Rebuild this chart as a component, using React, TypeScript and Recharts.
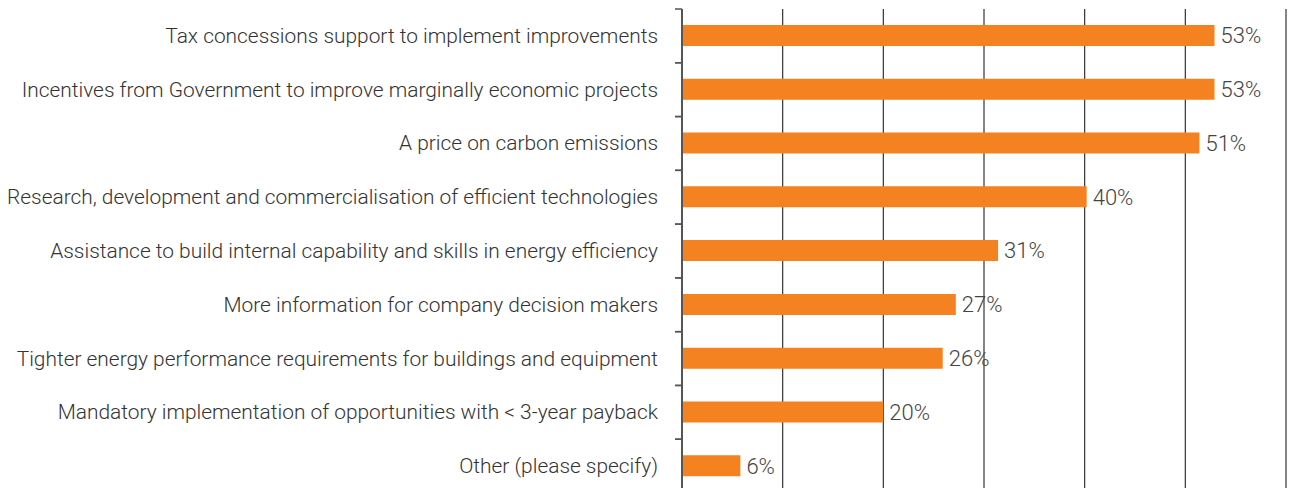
import { BarChart, Bar, XAxis, YAxis, CartesianGrid, LabelList } from 'recharts'

const categories = [
  'Tax concessions support to implement improvements',
  'Incentives from Government to improve marginally economic projects',
  'A price on carbon emissions',
  'Research, development and commercialisation of efficient technologies',
  'Assistance to build internal capability and skills in energy efficiency',
  'More information for company decision makers',
  'Tighter energy performance requirements for buildings and equipment',
  'Mandatory implementation of opportunities with < 3-year payback',
  'Other (please specify)',
]

// share of respondents (%)
const shares = [52.9, 52.9, 51.4, 40.2, 31.4, 27.2, 25.9, 20.0, 5.8]
const shareLabels = ['53%', '53%', '51%', '40%', '31%', '27%', '26%', '20%', '6%']

const xTicks = [0, 10, 20, 30, 40, 50, 60]

const data = categories.map((name, i) => ({ name, value: shares[i], label: shareLabels[i] }))

const CHART_H = 493
const TOP = 9
const BAND = (CHART_H - TOP) / categories.length
const FONT = 'Roboto, "Liberation Sans", Arial, sans-serif'

// category label plus the small tick marks that sit on the band edges
function CategoryTick(props: any) {
  const { x, y, payload } = props
  const axisX = x + 24
  return (
    <g>
      <line x1={axisX - 7} x2={axisX} y1={y - BAND / 2} y2={y - BAND / 2} stroke="#555" strokeWidth={1.5} />
      <line x1={axisX - 7} x2={axisX} y1={y + BAND / 2} y2={y + BAND / 2} stroke="#555" strokeWidth={1.5} />
      <text x={x} y={y} textAnchor="end" dominantBaseline="central" fill="#333" fontSize={20.9} fontWeight={300} fontFamily={FONT}>
        {payload.value}
      </text>
    </g>
  )
}

export default function App() {
  return (
    <div style={{ position: 'absolute', left: 0, top: 0 }}>
      <BarChart
        width={1293}
        height={CHART_H}
        data={data}
        layout="vertical"
        margin={{ top: TOP, right: 7, bottom: 0, left: 0 }}
        barCategoryGap={0}
      >
        <CartesianGrid horizontal={false} stroke="#333" strokeWidth={1.2} />
        <XAxis type="number" domain={[0, 60]} ticks={xTicks} hide />
        <YAxis
          type="category"
          dataKey="name"
          width={682}
          tickSize={0}
          tickMargin={24}
          axisLine={{ stroke: '#555', strokeWidth: 2 }}
          tickLine={false}
          tick={<CategoryTick />}
          interval={0}
        />
        <Bar dataKey="value" fill="#F58220" barSize={21} isAnimationActive={false}>
          <LabelList
            dataKey="label"
            position="right"
            offset={6}
            fill="#444"
            fontSize={22}
            fontWeight={300}
            fontFamily={FONT}
          />
        </Bar>
      </BarChart>
    </div>
  )
}
